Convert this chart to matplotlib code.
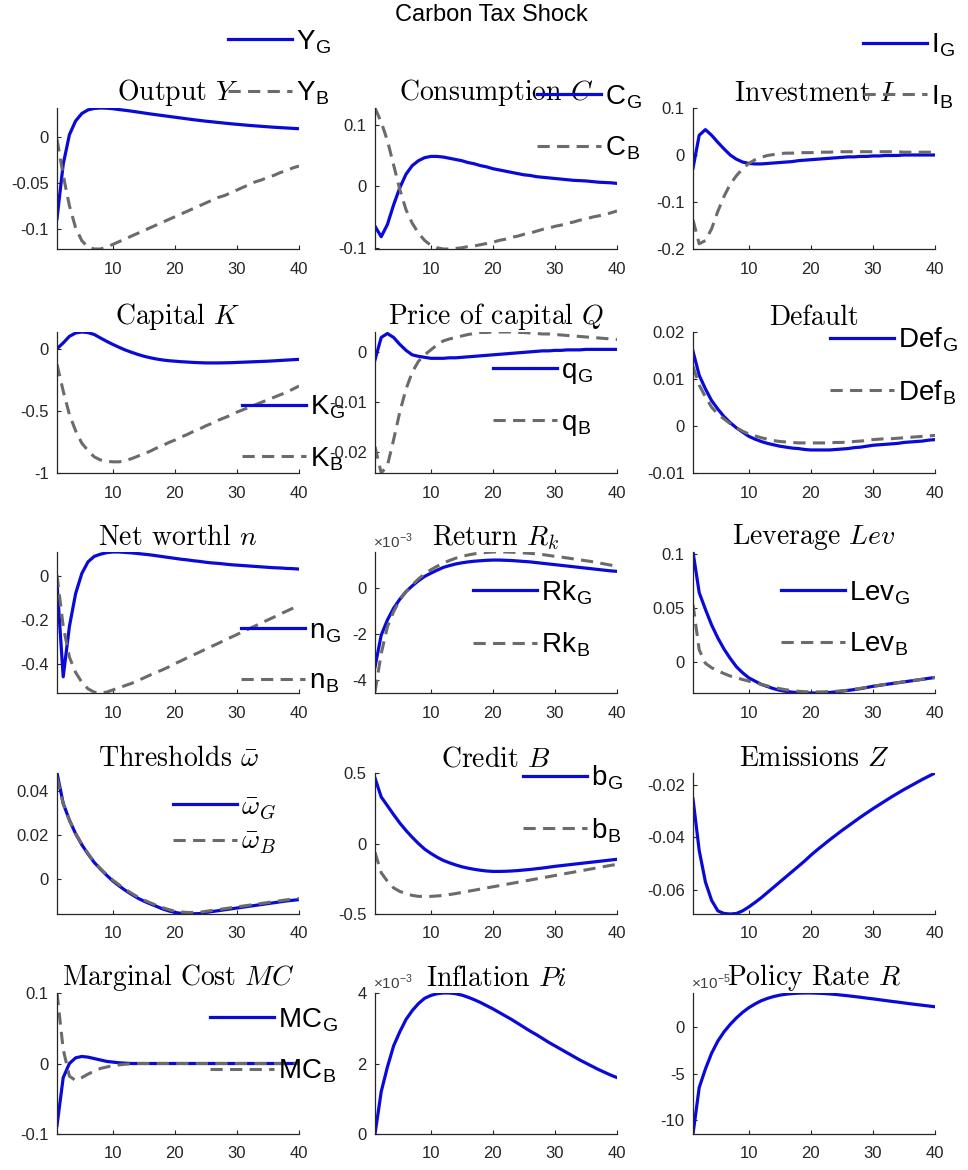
import numpy as np
import matplotlib
matplotlib.use("Agg")
import matplotlib.pyplot as plt

plt.rcParams["axes.unicode_minus"] = False

W, H = 968, 1170
t = np.arange(1, 41)

# impulse responses, good (G) vs bad (B) regime
y_g = [-0.089, -0.030, 0.002, 0.017, 0.025, 0.029, 0.0305, 0.031, 0.0308, 0.0302,
       0.0293, 0.0285, 0.0276, 0.0266, 0.0256, 0.0246, 0.0237, 0.0228, 0.0219, 0.021,
       0.0201, 0.0192, 0.0183, 0.0175, 0.0167, 0.016, 0.0153, 0.0146, 0.0139, 0.0133,
       0.0127, 0.0121, 0.0116, 0.0111, 0.0106, 0.0101, 0.0097, 0.0093, 0.0089, 0.0085]
y_b = [-0.003, -0.042, -0.075, -0.099, -0.113, -0.12, -0.122, -0.122, -0.12, -0.117,
       -0.114, -0.111, -0.108, -0.105, -0.102, -0.099, -0.096, -0.093, -0.09, -0.087,
       -0.084, -0.081, -0.078, -0.075, -0.072, -0.069, -0.066, -0.064, -0.061, -0.058,
       -0.055, -0.052, -0.049, -0.047, -0.044, -0.042, -0.039, -0.037, -0.034, -0.032]

c_g = [-0.065, -0.082, -0.062, -0.030, -0.002, 0.020, 0.034, 0.042, 0.047, 0.049,
       0.049, 0.048, 0.046, 0.044, 0.042, 0.039, 0.037, 0.034, 0.032, 0.029,
       0.027, 0.025, 0.023, 0.021, 0.019, 0.018, 0.016, 0.015, 0.014, 0.013,
       0.012, 0.011, 0.010, 0.0095, 0.009, 0.008, 0.007, 0.0065, 0.006, 0.005]
c_b = [0.128, 0.105, 0.075, 0.035, -0.005, -0.038, -0.060, -0.076, -0.088, -0.096,
       -0.100, -0.102, -0.102, -0.101, -0.100, -0.098, -0.097, -0.095, -0.093, -0.091,
       -0.088, -0.086, -0.083, -0.081, -0.078, -0.076, -0.073, -0.070, -0.068, -0.065,
       -0.063, -0.060, -0.058, -0.055, -0.053, -0.050, -0.048, -0.046, -0.043, -0.040]

i_g = [-0.028, 0.042, 0.054, 0.042, 0.027, 0.013, 0.0, -0.009, -0.015, -0.018,
       -0.019, -0.019, -0.018, -0.017, -0.016, -0.015, -0.014, -0.012, -0.011, -0.010,
       -0.009, -0.008, -0.007, -0.006, -0.005, -0.004, -0.004, -0.003, -0.003, -0.002,
       -0.002, -0.001, -0.001, -0.001, 0.0, 0.0, 0.0, 0.0, 0.0, 0.0]
i_b = [-0.138, -0.189, -0.182, -0.157, -0.120, -0.088, -0.062, -0.044, -0.029, -0.018,
       -0.010, -0.005, -0.001, 0.001, 0.003, 0.004, 0.004, 0.005, 0.005, 0.005,
       0.006, 0.006, 0.006, 0.007, 0.007, 0.007, 0.007, 0.007, 0.007, 0.007,
       0.007, 0.007, 0.007, 0.007, 0.006, 0.006, 0.006, 0.006, 0.006, 0.006]

k_g = [0.0, 0.047, 0.10, 0.127, 0.135, 0.13, 0.115, 0.087, 0.06, 0.035,
       0.012, -0.01, -0.028, -0.045, -0.06, -0.072, -0.082, -0.09, -0.096, -0.1,
       -0.104, -0.107, -0.11, -0.112, -0.114, -0.114, -0.114, -0.113, -0.112, -0.11,
       -0.108, -0.106, -0.104, -0.102, -0.1, -0.097, -0.094, -0.091, -0.088, -0.085]
k_b = [-0.125, -0.34, -0.53, -0.66, -0.76, -0.82, -0.87, -0.895, -0.906, -0.91,
       -0.91, -0.90, -0.885, -0.865, -0.845, -0.825, -0.80, -0.78, -0.755, -0.735,
       -0.71, -0.69, -0.665, -0.645, -0.62, -0.60, -0.575, -0.555, -0.535, -0.51,
       -0.49, -0.47, -0.45, -0.43, -0.41, -0.39, -0.37, -0.35, -0.325, -0.30]

q_g = [-0.0015, 0.003, 0.0038, 0.003, 0.0016, 0.0004, -0.0005, -0.0008, -0.001, -0.0012,
       -0.0012, -0.0012, -0.0011, -0.0011, -0.001, -0.0009, -0.0008, -0.0007, -0.0006, -0.0005,
       -0.0004, -0.0003, -0.0002, -0.0001, 0.0, 0.0001, 0.0002, 0.0003, 0.0003, 0.0004,
       0.0004, 0.0005, 0.0005, 0.0005, 0.0006, 0.0006, 0.0006, 0.0006, 0.0006, 0.0006]
q_b = [-0.019, -0.0243, -0.0228, -0.0176, -0.012, -0.0074, -0.004, -0.0018, -0.0005, 0.0005,
       0.0015, 0.0023, 0.0027, 0.003, 0.0033, 0.0036, 0.0038, 0.004, 0.004, 0.0041,
       0.0041, 0.0041, 0.0041, 0.004, 0.004, 0.0039, 0.0038, 0.0037, 0.0037, 0.0036,
       0.0035, 0.0034, 0.0033, 0.0032, 0.0031, 0.003, 0.0029, 0.0028, 0.0027, 0.0026]

def_g = [0.0159, 0.0108, 0.0079, 0.0054, 0.0036, 0.002, 0.0007, -0.0004, -0.0013, -0.0022,
         -0.0028, -0.0033, -0.0037, -0.004, -0.0043, -0.0045, -0.0047, -0.0048, -0.005, -0.0051,
         -0.0051, -0.0051, -0.0051, -0.005, -0.0049, -0.0048, -0.0046, -0.0045, -0.0043, -0.0041,
         -0.004, -0.0039, -0.0038, -0.0037, -0.0035, -0.0034, -0.0033, -0.0032, -0.003, -0.0029]
def_b = [0.0127, 0.0087, 0.0062, 0.004, 0.0025, 0.0015, 0.0005, -0.0004, -0.0011, -0.0017,
         -0.0021, -0.0025, -0.0028, -0.0031, -0.0033, -0.0034, -0.0035, -0.0036, -0.0036, -0.0036,
         -0.0036, -0.0036, -0.0036, -0.0035, -0.0035, -0.0034, -0.0033, -0.0032, -0.0031, -0.0029,
         -0.0028, -0.0027, -0.0027, -0.0026, -0.0025, -0.0024, -0.0023, -0.0022, -0.0021, -0.002]

n_g = [-0.034, -0.46, -0.23, -0.08, 0.012, 0.065, 0.09, 0.10, 0.107, 0.11,
       0.11, 0.108, 0.106, 0.103, 0.10, 0.097, 0.093, 0.089, 0.085, 0.081,
       0.077, 0.074, 0.07, 0.067, 0.063, 0.06, 0.058, 0.055, 0.052, 0.05,
       0.048, 0.046, 0.044, 0.042, 0.04, 0.038, 0.037, 0.035, 0.034, 0.032]
n_b = [0.005, -0.23, -0.37, -0.44, -0.485, -0.515, -0.53, -0.534, -0.53, -0.52,
       -0.51, -0.50, -0.49, -0.478, -0.465, -0.452, -0.44, -0.428, -0.415, -0.40,
       -0.387, -0.373, -0.36, -0.347, -0.333, -0.32, -0.307, -0.293, -0.28, -0.267,
       -0.253, -0.24, -0.227, -0.213, -0.2, -0.187, -0.173, -0.16, -0.147, -0.134]

# return on capital, in units of 1e-3
rk_g = [-3.42, -2.04, -1.38, -0.87, -0.48, -0.15, 0.1, 0.32, 0.51, 0.65,
        0.78, 0.9, 0.98, 1.05, 1.1, 1.14, 1.17, 1.19, 1.21, 1.22,
        1.22, 1.21, 1.2, 1.18, 1.16, 1.14, 1.11, 1.08, 1.05, 1.02,
        0.99, 0.96, 0.93, 0.9, 0.87, 0.84, 0.81, 0.78, 0.75, 0.73]
rk_b = [-4.5, -2.84, -1.68, -1.02, -0.51, -0.15, 0.14, 0.4, 0.62, 0.8,
        0.95, 1.09, 1.2, 1.3, 1.38, 1.44, 1.49, 1.53, 1.55, 1.57,
        1.57, 1.57, 1.56, 1.55, 1.53, 1.51, 1.49, 1.46, 1.42, 1.38,
        1.35, 1.31, 1.27, 1.23, 1.19, 1.15, 1.1, 1.05, 1.0, 0.94]

lev_g = [0.1016, 0.064, 0.0485, 0.034, 0.022, 0.0117, 0.003, -0.0047, -0.0103, -0.015,
         -0.018, -0.021, -0.023, -0.025, -0.0265, -0.0275, -0.0282, -0.0287, -0.029, -0.029,
         -0.029, -0.0288, -0.0285, -0.028, -0.0273, -0.0266, -0.0258, -0.025, -0.0239, -0.0228,
         -0.022, -0.0211, -0.0203, -0.0195, -0.0187, -0.0179, -0.0171, -0.0163, -0.0154, -0.0146]
lev_b = [0.053, 0.011, -0.0015, -0.0056, -0.0084, -0.011, -0.0133, -0.015, -0.0165, -0.018,
         -0.0195, -0.021, -0.0225, -0.0238, -0.025, -0.026, -0.0268, -0.0274, -0.0278, -0.028,
         -0.028, -0.0279, -0.0277, -0.0274, -0.027, -0.0263, -0.0255, -0.0247, -0.0237, -0.0227,
         -0.0218, -0.021, -0.0202, -0.0194, -0.0186, -0.0178, -0.017, -0.0162, -0.0154, -0.0146]

om_g = [0.048, 0.0343, 0.0267, 0.0206, 0.0156, 0.0114, 0.0076, 0.0046, 0.0018, -0.0008,
        -0.003, -0.005, -0.0068, -0.0085, -0.0099, -0.0111, -0.0122, -0.0134, -0.0143, -0.015,
        -0.0154, -0.0156, -0.0156, -0.0155, -0.015, -0.0146, -0.0142, -0.0138, -0.0134, -0.013,
        -0.0126, -0.0122, -0.0118, -0.0114, -0.011, -0.0106, -0.0102, -0.0098, -0.0095, -0.0092]
om_b = [0.046, 0.034, 0.0267, 0.0207, 0.0158, 0.0116, 0.0078, 0.0048, 0.0021, -0.0004,
        -0.0025, -0.0045, -0.0063, -0.008, -0.0094, -0.0106, -0.0117, -0.0128, -0.0137, -0.0144,
        -0.0148, -0.015, -0.015, -0.0149, -0.0145, -0.0141, -0.0137, -0.0133, -0.0129, -0.0125,
        -0.0121, -0.0117, -0.0113, -0.0109, -0.0105, -0.0101, -0.0097, -0.0093, -0.009, -0.0087]

b_g = [0.464, 0.33, 0.268, 0.205, 0.145, 0.092, 0.044, 0.0, -0.04, -0.07,
       -0.097, -0.12, -0.137, -0.152, -0.165, -0.175, -0.183, -0.19, -0.195, -0.198,
       -0.198, -0.197, -0.195, -0.192, -0.188, -0.184, -0.179, -0.174, -0.168, -0.162,
       -0.157, -0.152, -0.147, -0.142, -0.137, -0.132, -0.127, -0.122, -0.117, -0.112]
b_b = [-0.063, -0.207, -0.268, -0.315, -0.34, -0.356, -0.368, -0.375, -0.375, -0.375,
       -0.372, -0.368, -0.362, -0.355, -0.347, -0.339, -0.331, -0.323, -0.315, -0.307,
       -0.299, -0.291, -0.283, -0.275, -0.267, -0.259, -0.251, -0.243, -0.235, -0.227,
       -0.219, -0.211, -0.203, -0.195, -0.187, -0.179, -0.171, -0.163, -0.155, -0.148]

z = [-0.0254, -0.045, -0.057, -0.064, -0.068, -0.069, -0.0692, -0.069, -0.068, -0.0665,
     -0.0648, -0.063, -0.061, -0.059, -0.057, -0.055, -0.053, -0.051, -0.049, -0.0468,
     -0.0448, -0.0429, -0.041, -0.0392, -0.0374, -0.0357, -0.034, -0.0323, -0.0307, -0.0291,
     -0.0276, -0.0261, -0.0246, -0.0232, -0.0218, -0.0205, -0.0192, -0.0179, -0.0167, -0.0155]

mc_g = [-0.088, -0.02, 0.0, 0.008, 0.01, 0.009, 0.007, 0.005, 0.003, 0.002,
        0.001, 0.0005, 0.0, 0.0, 0.0, 0.0, 0.0, 0.0, 0.0, 0.0,
        0.0, 0.0, 0.0, 0.0, 0.0, 0.0, 0.0, 0.0, 0.0, 0.0,
        0.0, 0.0, 0.0, 0.0, 0.0, 0.0, 0.0, 0.0, 0.0, 0.0]
mc_b = [0.1, 0.02, -0.018, -0.024, -0.02, -0.015, -0.011, -0.007, -0.005, -0.003,
        -0.002, -0.001, -0.0005, 0.0, 0.0, 0.0, 0.0, 0.0, 0.0, 0.0,
        0.0, 0.0, 0.0, 0.0, 0.0, 0.0, 0.0, 0.0, 0.0, 0.0,
        0.0, 0.0, 0.0, 0.0, 0.0, 0.0, 0.0, 0.0, 0.0, 0.0]

# inflation in units of 1e-3
pi_g = [0.0, 1.2, 1.9, 2.5, 2.9, 3.25, 3.5, 3.7, 3.85, 3.93,
        3.98, 4.0, 4.0, 3.98, 3.94, 3.88, 3.81, 3.73, 3.64, 3.55,
        3.45, 3.35, 3.25, 3.14, 3.03, 2.92, 2.82, 2.71, 2.6, 2.5,
        2.4, 2.3, 2.2, 2.1, 2.01, 1.92, 1.83, 1.75, 1.67, 1.6]
# policy rate in units of 1e-5
r_g = [-11.5, -6.5, -4.5, -2.8, -1.5, -0.5, 0.3, 1.0, 1.6, 2.1,
       2.5, 2.85, 3.1, 3.3, 3.45, 3.55, 3.62, 3.66, 3.68, 3.68,
       3.66, 3.63, 3.58, 3.52, 3.45, 3.38, 3.3, 3.22, 3.13, 3.05,
       2.96, 2.87, 2.78, 2.7, 2.61, 2.52, 2.44, 2.36, 2.28, 2.2]

BLUE = "#0a0ad8"
GREY = "#6b6b6b"
DARK = "#262626"

fig = plt.figure(figsize=(W / 100, H / 100), dpi=100)

col_left = [57, 375, 693]
row_top = [108, 332, 552, 773, 993]
ax_w, ax_h = 242, 141


def sub(label, name):
    return label + "$_\\mathregular{" + name + "}$"


# title, blue, grey, labels, ylim, yticks, legend (x, y1, y2, spacing), exponent
panels = [
    (r"Output $Y$", y_g, y_b, (sub("Y", "G"), sub("Y", "B")),
     (-0.122, 0.031), [-0.1, -0.05, 0], (228, 42, 93, 0.85), None),
    (r"Consumption $C$", c_g, c_b, (sub("C", "G"), sub("C", "B")),
     (-0.102, 0.128), [-0.1, 0, 0.1], (537, 97, 148, 0.85), None),
    (r"Investment $I$", i_g, i_b, (sub("I", "G"), sub("I", "B")),
     (-0.2, 0.1), [-0.2, -0.1, 0, 0.1], (863, 44, 98, 0.85), None),
    (r"Capital $K$", k_g, k_b, (sub("K", "G"), sub("K", "B")),
     (-1, 0.135), [-1, -0.5, 0], (242, 406, 460, 0.85), None),
    (r"Price of capital $Q$", q_g, q_b, (sub("q", "G"), sub("q", "B")),
     (-0.0243, 0.0041), [-0.02, -0.01, 0], (493, 372, 424, 0.85), None),
    ("Default", def_g, def_b, (sub("Def", "G"), sub("Def", "B")),
     (-0.01, 0.02), [-0.01, 0, 0.01, 0.02], (830, 340, 392, 0.85), None),
    (r"Net worthl $n$", n_g, n_b, (sub("n", "G"), sub("n", "B")),
     (-0.534, 0.11), [-0.4, -0.2, 0], (241, 630, 683, 0.85), None),
    (r"Return $R_k$", rk_g, rk_b, (sub("Rk", "G"), sub("Rk", "B")),
     (-4.55, 1.57), [-4, -2, 0], (473, 593, 644, 0.85), "-3"),
    (r"Leverage $Lev$", lev_g, lev_b, (sub("Lev", "G"), sub("Lev", "B")),
     (-0.029, 0.1016), [0, 0.05, 0.1], (781, 593, 644, 0.85), None),
    (r"Thresholds $\bar{\omega}$", om_g, om_b, (r"$\bar{\omega}_G$", r"$\bar{\omega}_B$"),
     (-0.0157, 0.048), [0, 0.02, 0.04], (173, 807, 843, 0.32), None),
    (r"Credit $B$", b_g, b_b, (sub("b", "G"), sub("b", "B")),
     (-0.5, 0.5), [-0.5, 0, 0.5], (523, 779, 829, 0.85), None),
    (r"Emissions $Z$", z, None, None,
     (-0.0692, -0.0155), [-0.06, -0.04, -0.02], None, None),
    (r"Marginal Cost $MC$", mc_g, mc_b, (sub("MC", "G"), sub("MC", "B")),
     (-0.1, 0.1), [-0.1, 0, 0.1], (210, 1018, 1073, 0.85), None),
    (r"Inflation $Pi$", pi_g, None, None,
     (0, 4.0), [0, 2, 4], None, "-3"),
    (r"Policy Rate $R$", r_g, None, None,
     (-11.5, 3.68), [-10, -5, 0], None, "-5"),
]

for k, (title, g, b, labels, ylim, yticks, leg, expo) in enumerate(panels):
    r, c = divmod(k, 3)
    ax = fig.add_axes([col_left[c] / W, 1 - (row_top[r] + ax_h) / H,
                       ax_w / W, ax_h / H])
    handles = [ax.plot(t, g, color=BLUE, lw=2.3)[0]]
    if b is not None:
        handles.append(ax.plot(t, b, color=GREY, lw=2.2,
                               linestyle=(0, (4, 2.4)))[0])
    ax.set_xlim(1, 40)
    ax.set_ylim(*ylim)
    ax.set_xticks([10, 20, 30, 40])
    ax.set_xticklabels(["10", "20", "30", "40"])
    ax.set_yticks(yticks)
    ax.set_yticklabels([f"{v:g}" for v in yticks])
    for s in ("top", "right"):
        ax.spines[s].set_visible(False)
    for s in ("left", "bottom"):
        ax.spines[s].set_color(DARK)
        ax.spines[s].set_linewidth(0.9)
    ax.tick_params(direction="in", length=3, width=0.8, colors=DARK,
                   labelsize=12, pad=6)
    ax.tick_params(axis="x", pad=9)
    for lab in ax.get_xticklabels() + ax.get_yticklabels():
        lab.set_fontfamily("Liberation Sans")
    ax.set_title(title, fontfamily="cmr10", math_fontfamily="cm",
                 fontsize=20, pad=5, color="black")
    if expo is not None:
        ax.text(-0.01, 1.01, "\u00d710$^{\\mathregular{" + expo + "}}$",
                transform=ax.transAxes, ha="left", va="bottom",
                fontsize=11, family="Liberation Sans", color="#404040")
    if leg is not None:
        lx, ly1, ly2, gap = leg
        lg = ax.legend(handles, labels, loc="center left",
                       bbox_to_anchor=(lx / W, 1 - (ly1 + ly2) / 2 / H),
                       bbox_transform=fig.transFigure, frameon=False,
                       prop={"family": "Liberation Sans", "size": 20},
                       handlelength=2.3, handletextpad=0.15,
                       labelspacing=gap, borderpad=0, borderaxespad=0)
        for txt in lg.get_texts():
            txt.set_math_fontfamily("cm")

fig.text(491 / W, 1 - 15 / H, "Carbon Tax Shock", ha="center", va="center",
         fontsize=17, family="Liberation Sans")

fig.savefig("out.png", dpi=100)
